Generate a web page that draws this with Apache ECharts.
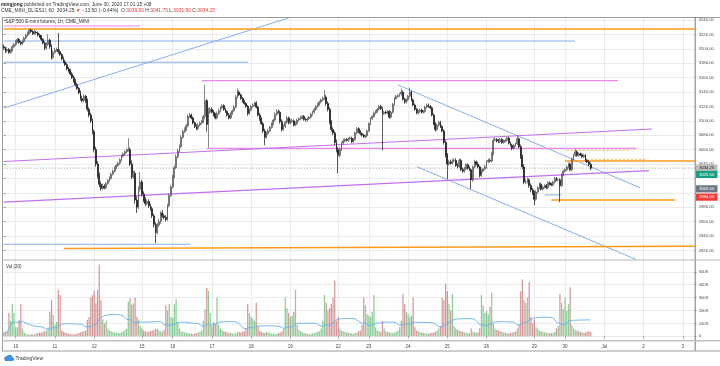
<!DOCTYPE html>
<html><head><meta charset="utf-8">
<script src="https://cdn.jsdelivr.net/npm/echarts@6/dist/echarts.min.js"></script>
<style>html,body{margin:0;padding:0;background:#fff}#c{width:720px;height:366px}</style>
</head><body><div id="c"></div>
<script>
// ---- time structure (hourly bars, UTC+8) ----
const dayNames = ['9','10','11','12','13','15','16','17','18','19','20','22','23','24','25','26','27','29','30','Jul','2','3'];
const dayBars  = [7,23,23,23,5,18,23,23,23,23,5,18,23,23,23,23,5,18,23,23,23,8];
const shownDays = ['10','11','12','15','16','17','18','19','22','23','24','25','26','29','30','Jul','2','3'];

// ---- OHLC (hourly) ----
const opens = [
3203,3201,3197,3199,3195,3198,3203,3206,3210,3213, 3209,3207,3210,3215,3219,3222,3226,3224,3221,3223,
3222,3219,3217,3213,3208,3201,3206,3212,3203,3188, 3195,3198,3199,3196,3192,3186,3182,3178,3172,3169,
3165,3160,3155,3150,3145,3139,3131,3128,3134,3128, 3116,3108,3100,3085,3060,3040,3024,3012,3006,3009,
3007,3013,3017,3020,3026,3030,3035,3038,3041,3046, 3051,3054,3057,3059,3060,3040,3022,3027,2990,2980,
3005,3015,2998,2990,2985,2988,2982,2978,2968,2956, 2945,2955,2960,2972,2968,2966,2963,2982,2996,3008,
3022,3035,3050,3058,3064,3077,3085,3088,3093,3106, 3108,3104,3097,3092,3089,3094,3097,3099,3106,3128,
3095,3112,3116,3112,3108,3104,3110,3114,3118,3121, 3116,3113,3108,3104,3110,3114,3119,3133,3140,3136,
3131,3127,3124,3120,3110,3115,3120,3122,3125,3119, 3108,3102,3096,3086,3077,3082,3086,3091,3096,3101,
3109,3113,3112,3099,3088,3092,3098,3104,3097,3099, 3100,3094,3096,3101,3103,3104,3106,3102,3101,3103,
3105,3109,3112,3116,3120,3123,3126,3129,3131,3133, 3124,3116,3098,3088,3083,3070,3060,3052,3060,3069,
3072,3074,3073,3075,3076,3071,3074,3083,3089,3085, 3082,3080,3078,3079,3086,3096,3103,3106,3111,3113,
3116,3120,3117,3110,3112,3111,3113,3105,3112,3123, 3131,3134,3135,3137,3140,3130,3126,3129,3134,3140,
3129,3122,3116,3111,3113,3115,3112,3113,3119,3122, 3120,3118,3108,3096,3088,3094,3098,3092,3086,3070,
3052,3040,3043,3041,3044,3045,3038,3036,3045,3032, 3030,3033,3039,3034,3032,3018,3036,3043,3040,3036,
3024,3030,3033,3036,3043,3045,3044,3054,3073,3074, 3072,3071,3074,3070,3072,3073,3076,3069,3066,3062,
3066,3068,3075,3064,3050,3036,3015,3015,3018,3010, 3004,3000,2991,3001,3007,3012,3005,3008,3010,3007,
3014,3012,3011,3015,3020,3018,3018,3010,3025,3030, 3032,3036,3040,3032,3047,3052,3057,3052,3054,3053,
3050,3052,3045,3043,3039.5];
const highs = [
3206,3203,3202,3201,3200,3205,3208,3212,3215,3215, 3211,3213,3217,3221,3224,3228,3228,3226,3226,3225,
3224,3221,3219,3215,3210,3209,3220,3214,3206,3198, 3201,3202,3222,3199,3194,3189,3185,3180,3175,3172,
3168,3163,3158,3153,3147,3142,3135,3137,3136,3131, 3119,3111,3103,3088,3064,3044,3028,3016,3013,3012,
3015,3019,3023,3028,3032,3037,3040,3043,3048,3053, 3056,3059,3062,3076,3063,3045,3031,3030,2995,3009,
3029,3018,3002,2994,2991,2991,2985,2981,2971,2959, 2958,2964,2975,2976,2971,2969,2985,2999,3011,3025,
3038,3053,3061,3067,3080,3088,3091,3096,3109,3111, 3110,3106,3099,3095,3097,3099,3101,3108,3150,3130,
3118,3119,3119,3115,3111,3113,3117,3120,3123,3123, 3118,3115,3111,3112,3116,3122,3136,3145,3142,3138,
3133,3129,3126,3122,3117,3122,3124,3127,3127,3121, 3111,3105,3099,3089,3085,3089,3093,3098,3103,3112,
3116,3116,3114,3102,3095,3100,3107,3106,3102,3103, 3102,3099,3103,3105,3107,3108,3108,3104,3105,3107,
3111,3114,3118,3122,3125,3128,3131,3134,3143,3136, 3127,3119,3101,3091,3086,3074,3063,3063,3071,3075,
3076,3076,3077,3078,3078,3076,3085,3091,3091,3087, 3084,3082,3081,3088,3098,3105,3108,3113,3115,3118,
3122,3122,3119,3114,3114,3115,3115,3114,3125,3133, 3136,3137,3139,3145,3142,3132,3131,3136,3146,3142,
3131,3124,3118,3115,3117,3117,3115,3121,3124,3124, 3122,3120,3110,3098,3096,3100,3100,3094,3088,3073,
3055,3046,3046,3047,3048,3048,3041,3048,3047,3035, 3036,3041,3041,3037,3034,3038,3046,3045,3043,3038,
3033,3035,3039,3045,3047,3048,3057,3076,3077,3076, 3075,3076,3076,3074,3075,3078,3078,3071,3068,3068,
3070,3080,3077,3067,3053,3040,3019,3021,3020,3013, 3007,3003,3004,3009,3014,3014,3010,3012,3012,3016,
3016,3014,3017,3022,3022,3020,3020,3027,3032,3034, 3038,3042,3042,3049,3054,3061,3059,3056,3056,3055,
3054,3054,3047,3045,3041.75];
const lows = [
3199,3194,3195,3193,3193,3196,3201,3204,3208,3207, 3205,3205,3208,3213,3217,3220,3222,3219,3219,3220,
3217,3215,3211,3206,3198,3199,3204,3200,3185,3186, 3193,3196,3193,3190,3184,3180,3176,3170,3167,3163,
3158,3153,3148,3143,3137,3128,3126,3126,3125,3113, 3105,3097,3081,3056,3036,3020,3008,3003,3004,3005,
3005,3011,3015,3018,3024,3028,3033,3036,3039,3044, 3049,3052,3055,3057,3037,3019,3019,2985,2972,2977,
3002,2995,2987,2982,2983,2979,2975,2965,2952,2930, 2942,2952,2957,2965,2963,2960,2961,2980,2994,3006,
3020,3033,3048,3056,3062,3075,3083,3086,3091,3104, 3102,3095,3090,3087,3087,3092,3095,3097,3102,3085,
3063,3110,3110,3106,3102,3102,3108,3112,3116,3114, 3111,3106,3102,3102,3108,3112,3117,3131,3134,3129,
3125,3122,3118,3107,3108,3113,3118,3120,3117,3106, 3100,3094,3083,3066,3075,3080,3084,3089,3094,3099,
3107,3110,3096,3085,3086,3090,3096,3095,3095,3097, 3092,3092,3094,3099,3101,3102,3100,3099,3099,3101,
3103,3107,3110,3114,3118,3121,3124,3127,3129,3121, 3113,3095,3085,3080,3066,3056,3027,3049,3058,3067,
3070,3071,3071,3073,3069,3069,3072,3081,3083,3080, 3078,3076,3076,3077,3084,3094,3101,3104,3109,3111,
3114,3115,3059,3108,3109,3109,3103,3103,3110,3121, 3129,3132,3133,3135,3128,3124,3124,3127,3132,3127,
3120,3114,3109,3109,3111,3110,3110,3111,3117,3118, 3116,3106,3094,3085,3086,3092,3090,3084,3067,3049,
3019,3038,3039,3039,3042,3036,3034,3034,3030,3028, 3028,3031,3032,3030,3005,3015,3034,3038,3034,3021,
3022,3028,3031,3034,3041,3042,3042,3052,3071,3070, 3069,3069,3068,3068,3070,3071,3067,3064,3059,3060,
3064,3066,3062,3047,3033,3012,3012,3013,3007,3001, 2997,2983,2989,2999,3005,3003,3003,3006,3005,3005,
3010,3009,3009,3013,3016,3016,2987,3008,3023,3028, 3030,3034,3030,3030,3045,3050,3050,3050,3051,3048,
3048,3043,3041,3037,3031.5];
const closes = [
3201,3197,3199,3195,3198,3203,3206,3210,3213,3209, 3207,3210,3215,3219,3222,3226,3224,3221,3223,3222,
3219,3217,3213,3208,3201,3206,3212,3203,3188,3195, 3198,3199,3196,3192,3186,3182,3178,3172,3169,3165,
3160,3155,3150,3145,3139,3131,3128,3134,3128,3116, 3108,3100,3085,3060,3040,3024,3012,3006,3009,3007,
3013,3017,3020,3026,3030,3035,3038,3041,3046,3051, 3054,3057,3059,3060,3040,3022,3027,2990,2980,3005,
3015,2998,2990,2985,2988,2982,2978,2968,2956,2945, 2955,2960,2972,2968,2966,2963,2982,2996,3008,3022,
3035,3050,3058,3064,3077,3085,3088,3093,3106,3108, 3104,3097,3092,3089,3094,3097,3099,3106,3128,3095,
3112,3116,3112,3108,3104,3110,3114,3118,3121,3116, 3113,3108,3104,3110,3114,3119,3133,3140,3136,3131,
3127,3124,3120,3110,3115,3120,3122,3125,3119,3108, 3102,3096,3086,3077,3082,3086,3091,3096,3101,3109,
3113,3112,3099,3088,3092,3098,3104,3097,3099,3100, 3094,3096,3101,3103,3104,3106,3102,3101,3103,3105,
3109,3112,3116,3120,3123,3126,3129,3131,3133,3124, 3116,3098,3088,3083,3070,3060,3052,3060,3069,3072,
3074,3073,3075,3076,3071,3074,3083,3089,3085,3082, 3080,3078,3079,3086,3096,3103,3106,3111,3113,3116,
3120,3117,3110,3112,3111,3113,3105,3112,3123,3131, 3134,3135,3137,3140,3130,3126,3129,3134,3140,3129,
3122,3116,3111,3113,3115,3112,3113,3119,3122,3120, 3118,3108,3096,3088,3094,3098,3092,3086,3070,3052,
3040,3043,3041,3044,3045,3038,3036,3045,3032,3030, 3033,3039,3034,3032,3018,3036,3043,3040,3036,3024,
3030,3033,3036,3043,3045,3044,3054,3073,3074,3072, 3071,3074,3070,3072,3073,3076,3069,3066,3062,3066,
3068,3075,3064,3050,3036,3015,3015,3018,3010,3004, 3000,2991,3001,3007,3012,3005,3008,3010,3007,3014,
3012,3011,3015,3020,3018,3018,3010,3025,3030,3032, 3036,3040,3032,3047,3052,3057,3052,3054,3053,3050,
3052,3045,3043,3039.5,3034.25];
// volume in thousands of contracts
const volumesK = [
30,25,35,180,120,250,180,70,70,127, 250,60,30,20,15,12,18,14,16,22,
25,30,28,35,40,45,70,190,280,165, 90,110,360,320,45,35,30,25,20,18,
15,14,18,22,25,30,35,40,45,127, 150,300,320,350,255,360,557,280,130,100,
120,60,45,40,35,30,30,28,25,30, 40,50,60,270,295,245,255,300,150,130,
80,60,45,40,35,38,42,45,50,55, 60,45,40,35,50,240,200,250,150,140,
250,290,110,60,40,35,30,28,25,22, 20,18,22,25,30,35,45,120,210,375,
350,180,80,110,100,300,90,60,50,40, 35,30,28,25,22,20,25,30,35,30,
35,40,60,250,180,150,140,120,260,80, 45,35,30,25,35,30,25,22,20,18,
20,25,30,40,60,300,220,180,150,160, 190,360,90,50,40,30,25,22,20,18,
20,22,25,30,35,40,60,120,320,260, 200,220,250,300,430,120,150,60,45,40,
35,30,28,25,22,20,25,30,40,45, 90,300,240,170,160,150,190,320,70,45,
40,35,120,60,40,35,30,28,25,30, 35,45,70,120,330,250,190,170,150,160,
300,70,45,40,35,30,28,25,22,20, 25,28,30,35,45,60,80,300,280,410,
350,250,200,330,80,60,50,45,40,35, 30,28,25,22,60,35,30,28,30,60,
320,240,180,200,170,230,340,100,60,50, 45,40,35,30,28,25,22,25,30,35,
40,60,90,350,440,280,260,300,420,150, 100,130,70,60,45,40,35,30,28,25,
22,25,28,35,60,80,330,260,210,300, 200,250,380,90,60,50,45,40,35,30,
28,30,35,40,35];

// ---- axis ticks ----
const priceTicks = [2920,2940,2960,2980,3000,3020,3040,3060,3080,3100,3120,3140,3160,3180,3200,3220,3240];
const priceLabelTicks = [2920,2940,2960,2980,3040,3060,3080,3100,3120,3140,3160,3180,3200,3220,3240];
const volTicks = [0,100000,200000,300000,400000,500000];

// ---- drawings, [barIndex1, price1, barIndex2, price2] ----
const orangeLines = [[0,3227.5,405,3227.5],[35.3,2922.6,405,2925.7],[329,3044.2,405,3044.2],[321,2990,393.5,2990]];
const orangeDashed = [[330,3059,367,3059],[342,3046.5,376,3046.5]];
const blueLines = [[0,3210.8,334.8,3210.8],[0,3181.3,143.2,3181.3],[0,3117.6,168.4,3244],[0,2928.5,109.2,2928.5],
                   [231.1,3149.7,372.9,3007.1],[242.1,3036.3,370.6,2907.4],[317,2997,327,2997]];
const pinkLines = [[0,3231.7,79.9,3231.7],[116,3155.7,360,3155.7],[119,3061.8,371,3061.8]];
const purpleLines = [[0,3043.5,380,3088.6],[0,2987.1,378.2,3030.7]];
const tagValues = [3034.25,3025.50,3005.50,2994.00];

// ---- build ----
const categories = [], labelAt = {};
dayNames.forEach((d,k)=>{ for(let b=0;b<dayBars[k];b++){ if(b===0 && shownDays.includes(d)) labelAt[categories.length]=d; categories.push(d+'-'+b);} });
const isDay = (i)=> labelAt[i]!==undefined;
const candleData = closes.map((c,i)=>[opens[i],c,lows[i],highs[i]]);
const volData = volumesK.map((v,i)=>({value:v*1000,itemStyle:{color: closes[i]>=opens[i]?'rgba(70,175,90,0.62)':'rgba(185,80,80,0.58)'}}));
const maData = volumesK.map((v,i)=>{const s=Math.max(0,i-19);let t=0;for(let j=s;j<=i;j++)t+=volumesK[j];return t/(i-s+1)*1000;});
const lastPrice = closes[closes.length-1];

const FONT = '"Liberation Sans", Arial, sans-serif';
const L = 3.76, W = 690.94;
function lineSeries(arr, color, width, type, z){
  return arr.map(a=>({type:'line', xAxisIndex:2, yAxisIndex:0, data:[[a[0],a[1]],[a[2],a[3]]], showSymbol:false, symbol:'none', silent:true, animation:false, z:z||3,
    lineStyle:{color, width, type:type||'solid'}}));
}
const series = [
  ...lineSeries(blueLines,'#86aef0',1),
  ...lineSeries(pinkLines,'#ef86ef',1.2),
  ...lineSeries(purpleLines,'#c06ff0',1.2),
  ...lineSeries(orangeLines,'#ff9a1a',1.4),
  ...lineSeries(orangeDashed,'#ffb54d',1,[2,2]),
  ...lineSeries([[0,lastPrice,405,lastPrice]],'#777',0.8,[1,2]),
  {type:'candlestick', xAxisIndex:0, yAxisIndex:0, data:candleData, barWidth:1.35, z:5, animation:false, large:false,
   itemStyle:{color:'#8c8c8c', color0:'#111', borderColor:'#555', borderColor0:'#111', borderWidth:0.7}},
  {type:'bar', xAxisIndex:1, yAxisIndex:1, data:volData, barWidth:1.25, animation:false, z:2},
  {type:'line', xAxisIndex:1, yAxisIndex:1, data:maData, showSymbol:false, symbol:'none', animation:false, z:3,
   lineStyle:{color:'#64b2ee', width:0.9}}
];

const chart = echarts.init(document.getElementById('c'), null, {renderer:'canvas', width:720, height:366});
const gridLine = {show:true, lineStyle:{color:'#ebebeb', width:1}};
chart.setOption({
  animation:false,
  backgroundColor:'#fff',
  grid:[{left:L, top:17, width:W, height:243, outerBoundsMode:'none'},
        {left:L, top:260, width:W, height:81, outerBoundsMode:'none'}],
  xAxis:[
    {type:'category', gridIndex:0, data:categories, boundaryGap:false, axisLine:{show:false}, axisTick:{show:false}, axisLabel:{show:false},
     splitLine:{show:true, interval:(i)=>isDay(i), lineStyle:{color:'#ebebeb', width:1}}},
    {type:'category', gridIndex:1, data:categories, boundaryGap:false,
     axisLine:{show:false}, axisTick:{show:true, interval:(i)=>isDay(i), length:1.5, lineStyle:{color:'#888'}},
     axisLabel:{show:true, interval:(i)=>isDay(i), formatter:(v,i)=>labelAt[i]||'', fontSize:4.5, color:'#444', fontFamily:FONT, margin:3.5},
     splitLine:{show:true, interval:(i)=>isDay(i), lineStyle:{color:'#ebebeb', width:1}}},
    {type:'value', gridIndex:0, min:0, max:405, show:false}
  ],
  yAxis:[
    {type:'value', gridIndex:0, position:'right', min:2906.667, max:3244.167, scale:true,
     axisLine:{show:false}, axisTick:{show:true, length:1.8, customValues:priceTicks, lineStyle:{color:'#888'}},
     axisLabel:{customValues:priceLabelTicks, formatter:(v)=>v.toFixed(2), fontSize:4.2, color:'#4a4a4a', fontFamily:FONT, margin:4},
     splitLine:gridLine},
    {type:'value', gridIndex:1, position:'right', min:-36400, max:591500,
     axisLine:{show:false}, axisTick:{show:true, length:1.8, customValues:volTicks, lineStyle:{color:'#888'}},
     axisLabel:{customValues:volTicks, formatter:(v)=>v===0?'0':(v/1000)+'K', fontSize:4.2, color:'#4a4a4a', fontFamily:FONT, margin:4},
     splitLine:gridLine}
  ],
  series
});

// ---- frame, texts, price tags ----
const gray = '#9c9c9c';
const g = [
  {type:'line', shape:{x1:2, y1:17.5, x2:720, y2:17.5}, style:{stroke:gray, lineWidth:1}, z:10},
  {type:'line', shape:{x1:2.5, y1:17, x2:2.5, y2:351}, style:{stroke:gray, lineWidth:1}, z:10},
  {type:'line', shape:{x1:695.2, y1:17, x2:695.2, y2:351}, style:{stroke:'#777', lineWidth:1}, z:10},
  {type:'line', shape:{x1:2, y1:260, x2:720, y2:260}, style:{stroke:'#b5b5b5', lineWidth:1.2}, z:10},
  {type:'line', shape:{x1:2, y1:340.8, x2:720, y2:340.8}, style:{stroke:'#c2c2c2', lineWidth:1.4}, z:10},
  {type:'line', shape:{x1:2, y1:351, x2:720, y2:351}, style:{stroke:gray, lineWidth:1}, z:10},
  {type:'text', x:1, y:4.2, z:10, style:{text:'{a|mingjong}{b| published on TradingView.com, June 30, 2020 17:01:15 +08}', verticalAlign:'middle',
     rich:{a:{fontSize:4.8, fontFamily:FONT, fontWeight:'bold', fill:'#222'}, b:{fontSize:4.8, fontFamily:FONT, fill:'#333'}}}},
  {type:'text', x:1, y:10.8, z:10, style:{text:'{b|CME_MINI_DL:ES1!, 60  3034.25 }{r|▼}{b| −13.50 (−0.44%)  O:}{r|3039.50}{b| H:}{r|3041.75}{b| L:}{r|3031.50}{b| C:}{r|3034.25}', verticalAlign:'middle',
     rich:{b:{fontSize:4.9, fontFamily:FONT, fill:'#333'}, r:{fontSize:4.9, fontFamily:FONT, fill:'#e53935'}}}},
  {type:'text', x:5, y:22, z:10, style:{text:'S&P 500 E-mini futures, 1h, CME_MINI', fontSize:4.8, fontFamily:FONT, fill:'#333', verticalAlign:'middle'}},
  {type:'text', x:6, y:266.5, z:10, style:{text:'Vol (20)', fontSize:4.5, fontFamily:FONT, fill:'#333', verticalAlign:'middle'}},
  {type:'circle', shape:{cx:6.5, cy:358.6, r:2.3}, style:{fill:'#3d8fe0'}, z:10},
  {type:'circle', shape:{cx:9.6, cy:357.6, r:2.9}, style:{fill:'#3d8fe0'}, z:10},
  {type:'circle', shape:{cx:12.3, cy:359.1, r:1.9}, style:{fill:'#3d8fe0'}, z:10},
  {type:'rect', shape:{x:5, y:359, width:8, height:2}, style:{fill:'#3d8fe0'}, z:10},
  {type:'text', x:15.5, y:358.6, z:10, style:{text:'TradingView', fontSize:5, fontFamily:FONT, fill:'#333', verticalAlign:'middle'}}
];
const tagStyle = [['#bdbdbd','#222'],['#17a085','#fff'],['#6d7684','#fff'],['#f03a3a','#fff']];
tagValues.forEach((v,k)=>{
  const y = chart.convertToPixel({yAxisIndex:0}, v);
  g.push({type:'rect', shape:{x:696, y:y-3.6, width:21.5, height:7.2}, style:{fill:tagStyle[k][0]}, z:11});
  g.push({type:'text', x:706.7, y:y, z:12, style:{text:v.toFixed(2), fontSize:4.2, fontFamily:FONT, fill:tagStyle[k][1], align:'center', verticalAlign:'middle'}});
});
chart.setOption({graphic:g});
</script>
</body></html>
